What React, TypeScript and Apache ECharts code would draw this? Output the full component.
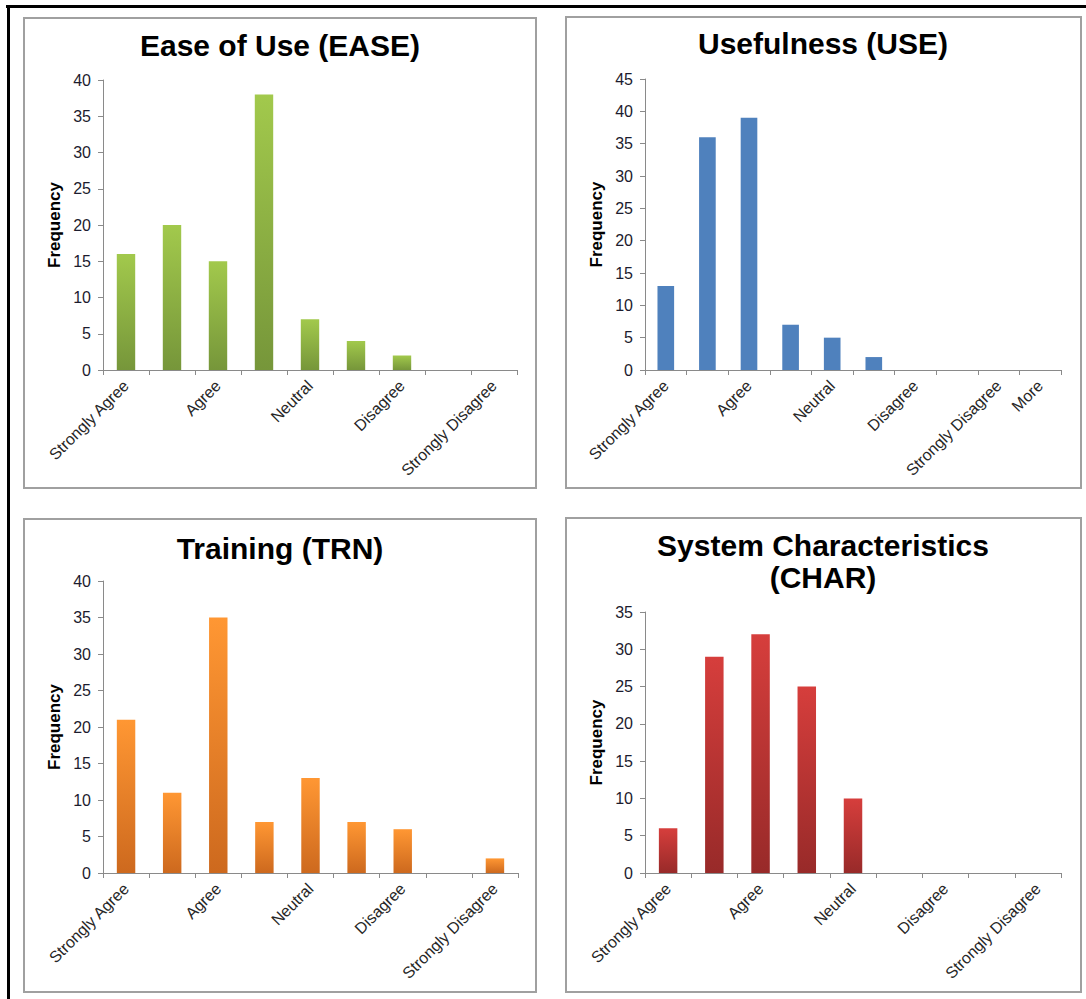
import React, { useEffect, useRef } from "react";
import * as echarts from "echarts";

const likertCategories = ["Strongly Agree", "", "Agree", "", "Neutral", "", "Disagree", "", "Strongly Disagree"];
const useCategories = ["Strongly Agree", "", "Agree", "", "Neutral", "", "Disagree", "", "Strongly Disagree", "More"];

const easeValues = [16, 20, 15, 38, 7, 4, 2, 0, 0];
const useValues = [13, 36, 39, 7, 5, 2, 0, 0, 0, 0];
const trnValues = [21, 11, 35, 7, 13, 7, 6, 0, 2];
const charValues = [6, 29, 32, 25, 10, 0, 0, 0, 0];

const easeTitle = "Ease of Use (EASE)";
const useTitle = "Usefulness (USE)";
const trnTitle = "Training (TRN)";
const charTitle = "System Characteristics\n(CHAR)";

const yMaxes = [40, 45, 40, 35];
const yName = "Frequency";

const FONT = "'Liberation Sans', Arial, Helvetica, sans-serif";

function grad(top: string, bottom: string) {
  return {
    type: "linear",
    x: 0,
    y: 0,
    x2: 0,
    y2: 1,
    colorStops: [
      { offset: 0, color: top },
      { offset: 1, color: bottom },
    ],
  };
}

export default function App() {
  const ref = useRef<HTMLDivElement>(null);

  useEffect(() => {
    if (!ref.current) return;
    const chart = echarts.init(ref.current, undefined, { renderer: "svg" });

    const grids = [
      { left: 103, top: 80, width: 414, height: 290 },
      { left: 645, top: 79, width: 416, height: 291 },
      { left: 103, top: 581, width: 415, height: 292 },
      { left: 645, top: 612, width: 416, height: 261 },
    ];
    const cats = [likertCategories, useCategories, likertCategories, likertCategories];
    const values = [easeValues, useValues, trnValues, charValues];
    const colors: any[] = [
      grad("#a2c94c", "#76963a"),
      "#4f81bd",
      grad("#ff9733", "#cd691e"),
      grad("#d63e3c", "#982a29"),
    ];

    const axisLineStyle = { color: "#8a8a8a", width: 1 };
    const titleFont = `bold 30px ${FONT}`;

    const option: any = {
      animation: false,
      backgroundColor: "#ffffff",
      grid: grids.map((g) => ({ ...g, containLabel: false })),
      xAxis: cats.map((c, i) => ({
        type: "category",
        gridIndex: i,
        data: c,
        boundaryGap: true,
        axisLine: { show: true, lineStyle: axisLineStyle },
        axisTick: { show: true, interval: 0, alignWithLabel: false, length: 5, lineStyle: axisLineStyle },
        axisLabel: {
          interval: 0,
          rotate: 45,
          margin: 13,
          fontSize: 16,
          fontFamily: FONT,
          color: "#262626",
        },
        splitLine: { show: false },
      })),
      yAxis: yMaxes.map((m, i) => ({
        type: "value",
        gridIndex: i,
        min: 0,
        max: m,
        interval: 5,
        name: yName,
        nameLocation: "middle",
        nameGap: 40,
        nameRotate: 90,
        nameTextStyle: { fontSize: 17, fontWeight: "bold", fontFamily: FONT, color: "#000" },
        axisLine: { show: true, lineStyle: axisLineStyle },
        axisTick: { show: true, length: 5, lineStyle: axisLineStyle },
        axisLabel: { margin: 12, fontSize: 16, fontFamily: FONT, color: "#1c1c2e" },
        splitLine: { show: false },
      })),
      series: values.map((v, i) => ({
        type: "bar",
        xAxisIndex: i,
        yAxisIndex: i,
        data: v,
        barWidth: "40%",
        itemStyle: { color: colors[i] },
      })),
      graphic: [
        { type: "line", shape: { x1: 6, y1: 6.5, x2: 1086, y2: 6.5 }, style: { stroke: "#000", lineWidth: 3 } },
        { type: "line", shape: { x1: 8.5, y1: 5, x2: 8.5, y2: 999 }, style: { stroke: "#000", lineWidth: 3 } },
        { type: "rect", shape: { x: 24, y: 18, width: 512, height: 470 }, style: { fill: "none", stroke: "#a0a0a0", lineWidth: 2 } },
        { type: "rect", shape: { x: 566, y: 17, width: 515, height: 471 }, style: { fill: "none", stroke: "#a0a0a0", lineWidth: 2 } },
        { type: "rect", shape: { x: 24, y: 519, width: 512, height: 473 }, style: { fill: "none", stroke: "#a0a0a0", lineWidth: 2 } },
        { type: "rect", shape: { x: 566, y: 518, width: 515, height: 474 }, style: { fill: "none", stroke: "#a0a0a0", lineWidth: 2 } },
        {
          type: "text",
          x: 280,
          y: 45,
          style: { text: easeTitle, font: titleFont, fill: "#000", align: "center", verticalAlign: "middle" },
        },
        {
          type: "text",
          x: 823,
          y: 43,
          style: { text: useTitle, font: titleFont, fill: "#000", align: "center", verticalAlign: "middle" },
        },
        {
          type: "text",
          x: 280,
          y: 548,
          style: { text: trnTitle, font: titleFont, fill: "#000", align: "center", verticalAlign: "middle" },
        },
        {
          type: "text",
          x: 823,
          y: 561,
          style: {
            text: charTitle,
            font: titleFont,
            fill: "#000",
            align: "center",
            verticalAlign: "middle",
            lineHeight: 32,
          },
        },
      ],
    };

    chart.setOption(option);
    return () => {
      chart.dispose();
    };
  }, []);

  return (
    <div
      ref={ref}
      style={{ position: "absolute", left: 0, top: 0, width: 1086, height: 999, background: "#fff" }}
    />
  );
}
